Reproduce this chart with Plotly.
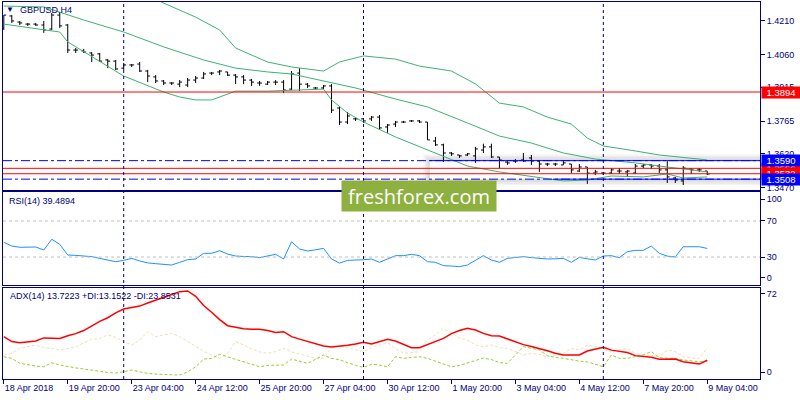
import plotly.graph_objects as go

# ---- data (H4 bars, index 0 = 18 Apr 12:00) ----
bars = list(range(89))

opens = [1.4178, 1.4231, 1.4204, 1.4195, 1.4195, 1.4191, 1.4173, 1.4235, 1.4191, 1.4080,
         1.4076, 1.4067, 1.4063, 1.4036, 1.4031, 1.4000, 1.4014, 1.4018, 1.3987, 1.3961,
         1.3943, 1.3934, 1.3929, 1.3925, 1.3947, 1.3956, 1.3978, 1.3983, 1.3983, 1.3969,
         1.3961, 1.3947, 1.3934, 1.3929, 1.3938, 1.3938, 1.3907, 1.3978, 1.3929, 1.3912,
         1.3912, 1.3921, 1.3823, 1.3761, 1.3775, 1.3775, 1.3775, 1.3783, 1.3739, 1.3752,
         1.3761, 1.3766, 1.3766, 1.3761, 1.3677, 1.3660, 1.3624, 1.3615, 1.3615, 1.3611,
         1.3637, 1.3651, 1.3606, 1.3584, 1.3588, 1.3593, 1.3602, 1.3588, 1.3575, 1.3575,
         1.3571, 1.3575, 1.3544, 1.3562, 1.3535, 1.3535, 1.3535, 1.3544, 1.3540, 1.3535,
         1.3566, 1.3571, 1.3566, 1.3549, 1.3513, 1.3500, 1.3553, 1.3549, 1.3544]
highs = [1.4235, 1.4235, 1.4209, 1.4200, 1.4200, 1.4209, 1.4244, 1.4244, 1.4195, 1.4089,
         1.4085, 1.4071, 1.4067, 1.4040, 1.4036, 1.4023, 1.4018, 1.4027, 1.3992, 1.3969,
         1.3947, 1.3938, 1.3947, 1.3956, 1.3965, 1.3983, 1.3983, 1.3992, 1.3983, 1.3974,
         1.3969, 1.3952, 1.3943, 1.3943, 1.3947, 1.3947, 1.3987, 1.4000, 1.3934, 1.3916,
         1.3925, 1.3929, 1.3832, 1.3805, 1.3779, 1.3779, 1.3788, 1.3792, 1.3752, 1.3766,
         1.3766, 1.3770, 1.3770, 1.3761, 1.3695, 1.3665, 1.3628, 1.3615, 1.3624, 1.3651,
         1.3665, 1.3665, 1.3606, 1.3588, 1.3597, 1.3624, 1.3615, 1.3593, 1.3580, 1.3580,
         1.3588, 1.3575, 1.3575, 1.3562, 1.3549, 1.3540, 1.3557, 1.3557, 1.3549, 1.3575,
         1.3575, 1.3575, 1.3575, 1.3588, 1.3518, 1.3566, 1.3557, 1.3557, 1.3544]
lows = [1.4169, 1.4200, 1.4191, 1.4187, 1.4187, 1.4156, 1.4169, 1.4178, 1.4067, 1.4067,
        1.4067, 1.4027, 1.4027, 1.4000, 1.3992, 1.3992, 1.4005, 1.3983, 1.3938, 1.3934,
        1.3925, 1.3925, 1.3916, 1.3916, 1.3934, 1.3952, 1.3969, 1.3969, 1.3965, 1.3929,
        1.3929, 1.3921, 1.3921, 1.3925, 1.3925, 1.3890, 1.3903, 1.3898, 1.3912, 1.3907,
        1.3907, 1.3801, 1.3748, 1.3752, 1.3766, 1.3757, 1.3766, 1.3726, 1.3713, 1.3739,
        1.3757, 1.3761, 1.3757, 1.3682, 1.3655, 1.3584, 1.3611, 1.3602, 1.3611, 1.3580,
        1.3624, 1.3602, 1.3557, 1.3571, 1.3580, 1.3584, 1.3571, 1.3540, 1.3566, 1.3566,
        1.3571, 1.3535, 1.3540, 1.3487, 1.3526, 1.3526, 1.3531, 1.3531, 1.3518, 1.3531,
        1.3557, 1.3553, 1.3535, 1.3491, 1.3491, 1.3482, 1.3531, 1.3540, 1.3526]
closes = [1.4235, 1.4209, 1.4200, 1.4195, 1.4191, 1.4169, 1.4235, 1.4187, 1.4080, 1.4080,
          1.4071, 1.4058, 1.4031, 1.4031, 1.3996, 1.4014, 1.4014, 1.3987, 1.3965, 1.3943,
          1.3934, 1.3934, 1.3938, 1.3947, 1.3956, 1.3974, 1.3978, 1.3987, 1.3969, 1.3961,
          1.3947, 1.3938, 1.3934, 1.3938, 1.3938, 1.3903, 1.3974, 1.3929, 1.3921, 1.3912,
          1.3921, 1.3814, 1.3761, 1.3788, 1.3775, 1.3766, 1.3783, 1.3735, 1.3748, 1.3761,
          1.3761, 1.3766, 1.3761, 1.3682, 1.3660, 1.3624, 1.3620, 1.3611, 1.3620, 1.3642,
          1.3651, 1.3606, 1.3593, 1.3580, 1.3588, 1.3588, 1.3588, 1.3575, 1.3575, 1.3575,
          1.3580, 1.3549, 1.3562, 1.3535, 1.3540, 1.3535, 1.3549, 1.3544, 1.3544, 1.3566,
          1.3571, 1.3566, 1.3549, 1.3518, 1.3504, 1.3557, 1.3549, 1.3549, 1.3531]

# Bollinger bands, sampled at bar positions
bb_up_x = [18, 20, 24, 27, 29, 33, 36, 39, 40, 42, 45, 49, 52, 56, 59, 62, 65, 68, 71, 73, 75, 79, 82, 87, 88]
bb_up = [1.4324, 1.4288, 1.4226, 1.4169, 1.4089, 1.4027, 1.4005, 1.3992, 1.3987, 1.4027, 1.4054, 1.4040,
         1.4009, 1.3987, 1.3930, 1.3845, 1.3828, 1.3783, 1.3752, 1.3690, 1.3655, 1.3633, 1.3615, 1.3597, 1.3593]
bb_mid_x = [0, 5, 10, 15, 20, 25, 29, 33, 36, 39, 41, 44, 49, 53, 58, 62, 66, 70, 74, 79, 83, 87, 88]
bb_mid = [1.4275, 1.4271, 1.4213, 1.4160, 1.4094, 1.4036, 1.4000, 1.3983, 1.3974, 1.3952, 1.3934, 1.3912,
          1.3863, 1.3828, 1.3757, 1.3699, 1.3668, 1.3624, 1.3597, 1.3580, 1.3562, 1.3544, 1.3540]
bb_low_x = [0, 7, 8, 15, 20, 22, 24, 26, 29, 33, 40, 41, 43, 45, 49, 53, 56, 58, 62, 67, 70, 73, 76, 80, 83, 85, 88]
bb_low = [1.4195, 1.4160, 1.4116, 1.3965, 1.3894, 1.3872, 1.3859, 1.3859, 1.3898, 1.3898, 1.3907, 1.3859,
          1.3801, 1.3761, 1.3695, 1.3637, 1.3593, 1.3566, 1.3540, 1.3513, 1.3500, 1.3504, 1.3522, 1.3518,
          1.3531, 1.3513, 1.3518]

rsi = [46.3, 42.2, 40.8, 41.0, 41.1, 37.8, 49.7, 44.1, 32.2, 31.8, 31.5, 30.4, 28.5, 26.5, 24.8,
       26.3, 28.5, 25.6, 23.5, 22.6, 21.5, 21.1, 24.1, 27.0, 27.8, 34.1, 34.1, 37.0, 33.3, 31.1,
       30.6, 30.4, 29.3, 31.1, 33.0, 27.8, 47.0, 38.9, 36.7, 38.0, 39.6, 27.8, 23.3, 26.3, 26.5,
       27.0, 27.8, 24.1, 27.8, 31.5, 31.5, 33.0, 31.5, 24.8, 24.1, 20.4, 20.0, 19.3, 21.1, 26.0,
       31.5, 26.7, 24.1, 28.5, 29.5, 30.4, 29.3, 28.5, 27.8, 28.0, 28.5, 24.1, 29.6, 28.0, 26.7,
       31.1, 31.5, 29.3, 35.9, 37.4, 37.4, 42.2, 34.1, 31.0, 30.0, 41.4, 41.4, 41.4, 39.49]

adx = [33.0, 29.0, 28.0, 28.6, 29.5, 32.0, 31.6, 31.6, 33.8, 35.5, 38.0, 42.0, 45.5, 48.5, 52.5,
       55.6, 56.7, 58.0, 60.5, 63.0, 65.0, 67.5, 69.8, 70.4, 66.0, 58.5, 53.0, 47.0, 42.0, 40.8,
       39.5, 39.0, 39.0, 38.0, 36.5, 37.1, 33.0, 31.0, 29.2, 27.5, 25.4, 24.5, 25.0, 26.0, 27.0,
       28.4, 27.0, 28.9, 30.8, 29.5, 26.5, 24.0, 24.0, 26.5, 29.0, 31.6, 35.5, 38.0, 39.8, 38.5,
       35.7, 33.8, 33.5, 31.0, 28.5, 26.5, 25.0, 23.5, 21.5, 19.5, 18.0, 18.0, 18.0, 21.3, 23.0,
       24.3, 22.0, 21.3, 20.0, 17.5, 16.6, 16.1, 14.5, 14.6, 14.7, 12.5, 11.5, 10.6, 13.72]
plus_di = [16.6, 15.3, 11.2, 9.8, 9.0, 8.4, 11.7, 9.8, 8.4, 7.5, 6.5, 5.5, 4.9, 3.8, 3.2,
           4.5, 5.7, 4.3, 3.0, 2.4, 2.0, 1.8, 1.6, 4.3, 8.4, 14.7, 15.3, 18.6, 16.6, 14.5,
           12.0, 10.5, 8.4, 9.5, 9.8, 9.8, 14.7, 12.8, 11.2, 14.5, 18.0, 15.3, 14.2, 11.8, 9.5,
           7.9, 10.4, 9.8, 8.4, 16.6, 15.3, 16.0, 16.6, 15.3, 13.0, 11.2, 8.4, 9.5, 11.5, 13.9,
           15.5, 14.3, 11.8, 11.2, 18.0, 24.8, 23.5, 22.1, 17.5, 16.0, 15.3, 13.9, 13.0, 12.4, 10.5,
           8.4, 18.0, 15.3, 15.3, 16.6, 18.0, 20.8, 16.0, 15.3, 15.3, 14.0, 13.2, 12.4, 13.15]
minus_di = [18.0, 19.4, 23.5, 24.8, 26.2, 24.0, 23.5, 22.1, 23.5, 24.5, 28.0, 30.8, 31.6, 34.4, 32.5,
            29.0, 26.2, 30.3, 37.1, 33.0, 34.5, 35.7, 33.0, 28.9, 25.0, 21.0, 18.0, 15.3, 19.4, 28.9,
            26.2, 23.0, 20.5, 19.4, 20.8, 23.5, 20.5, 18.5, 17.0, 15.3, 15.3, 24.0, 25.5, 24.0, 22.1,
            20.8, 24.0, 26.2, 28.0, 23.5, 19.4, 20.0, 20.8, 30.3, 34.5, 39.8, 35.7, 32.0, 30.3, 26.2,
            24.8, 26.2, 24.0, 23.5, 20.8, 18.0, 19.4, 18.5, 16.6, 18.0, 19.4, 23.5, 22.1, 26.2, 25.0,
            23.0, 20.8, 22.5, 23.5, 19.4, 18.0, 17.5, 16.6, 22.1, 20.8, 16.6, 15.5, 15.3, 23.85]

tick_pos = [0, 8, 16, 24, 32, 40, 48, 56, 64, 72, 80, 88]
tick_labels = ["18 Apr 2018", "19 Apr 20:00", "23 Apr 04:00", "24 Apr 12:00", "25 Apr 20:00",
               "27 Apr 04:00", "30 Apr 12:00", "1 May 20:00", "3 May 04:00", "4 May 12:00",
               "7 May 20:00", "9 May 04:00"]
price_ticks = [1.4210, 1.4060, 1.3915, 1.3765, 1.3620, 1.3470]
week_starts = [15, 45, 75]

red_levels = [1.3894, 1.3556, 1.3532]
blue_levels = [1.3590, 1.3508]
zone_start = 53.3

NAVY = "#000080"
FONT = "Liberation Sans"
XR = [-0.1, 94.6]

fig = go.Figure()

fig.add_trace(go.Ohlc(x=bars, open=opens, high=highs, low=lows, close=closes,
                      increasing_line_color="black", decreasing_line_color="black",
                      line_width=1, tickwidth=0.3, hoverinfo="skip",
                      xaxis="x", yaxis="y"))
for bx, by in [(bb_up_x, bb_up), (bb_mid_x, bb_mid), (bb_low_x, bb_low)]:
    fig.add_trace(go.Scatter(x=bx, y=by, mode="lines", line=dict(color="#3CB371", width=1),
                             hoverinfo="skip", xaxis="x", yaxis="y"))

fig.add_trace(go.Scatter(x=bars, y=rsi, mode="lines", line=dict(color="#1E90FF", width=1),
                         hoverinfo="skip", xaxis="x2", yaxis="y2"))

fig.add_trace(go.Scatter(x=bars, y=minus_di, mode="lines",
                         line=dict(color="#F5DEB3", width=1, dash="3px,2px"),
                         hoverinfo="skip", xaxis="x3", yaxis="y3"))
fig.add_trace(go.Scatter(x=bars, y=plus_di, mode="lines",
                         line=dict(color="#9ACD32", width=1, dash="3px,2px"),
                         hoverinfo="skip", xaxis="x3", yaxis="y3"))
fig.add_trace(go.Scatter(x=bars, y=adx, mode="lines", line=dict(color="#FF0000", width=1.5),
                         hoverinfo="skip", xaxis="x3", yaxis="y3"))

shapes = []
# soft shadow around the support zone
for k in range(4, 0, -1):
    shapes.append(dict(type="rect", xref="x", yref="y", layer="below",
                       x0=zone_start - 0.2 * k, x1=XR[1] + 1,
                       y0=blue_levels[1] - 0.0007 * k, y1=blue_levels[0] + 0.0007 * k,
                       fillcolor="rgba(120,120,120,0.07)", line_width=0))
shapes.append(dict(type="rect", xref="x", yref="y", layer="below",
                   x0=zone_start, x1=XR[1] + 1, y0=blue_levels[1], y1=blue_levels[0],
                   fillcolor="white", line_width=0))
for lv in red_levels:
    shapes.append(dict(type="line", xref="x domain", yref="y", x0=0, x1=1, y0=lv, y1=lv,
                       line=dict(color="#FF0000", width=1)))
for lv in blue_levels:
    shapes.append(dict(type="line", xref="x domain", yref="y", x0=0, x1=1, y0=lv, y1=lv,
                       line=dict(color="#0000FF", width=1, dash="dashdot")))
shapes.append(dict(type="line", xref="x", yref="y", x0=zone_start, x1=XR[1],
                   y0=blue_levels[0], y1=blue_levels[0], line=dict(color="#0000FF", width=1)))
shapes.append(dict(type="line", xref="x", yref="y", x0=68.7, x1=XR[1],
                   y0=blue_levels[1], y1=blue_levels[1], line=dict(color="#0000FF", width=1)))
for lv in [70, 30]:
    shapes.append(dict(type="line", xref="x2 domain", yref="y2", x0=0, x1=1, y0=lv, y1=lv,
                       line=dict(color="#C0C0C0", width=1, dash="3px,3px")))
for w in week_starts:
    shapes.append(dict(type="line", xref="x", yref="paper", x0=w, x1=w, y0=0, y1=1,
                       line=dict(color=NAVY, width=1, dash="3px,3px")))

ann = []
small = dict(family=FONT, size=9, color=NAVY)
ann.append(dict(text="▼", xref="paper", yref="paper", x=0.0086, y=0.981, showarrow=False,
                xanchor="center", yanchor="middle", font=dict(family=FONT, size=8, color=NAVY)))
ann.append(dict(text="GBPUSD,H4", xref="paper", yref="paper", x=0.0198, y=0.9788,
                showarrow=False, xanchor="left", yanchor="middle", font=small))
ann.append(dict(text="RSI(14) 39.4894", xref="paper", yref="paper", x=0.0053, y=0.4721,
                showarrow=False, xanchor="left", yanchor="middle", font=small))
ann.append(dict(text="ADX(14) 13.7223 +DI:13.1522 -DI:23.8531", xref="paper", yref="paper",
                x=0.0066, y=0.2202, showarrow=False, xanchor="left", yanchor="middle", font=small))

# price labels on the right scale (blue ones on top)
for lv, col in [(red_levels[1], "#FF0000"), (red_levels[2], "#FF0000"), (red_levels[0], "#FF0000"),
                (blue_levels[0], "#0000FF"), (blue_levels[1], "#0000FF")]:
    ann.append(dict(text="%.4f" % lv, xref="paper", yref="y", x=1, y=lv, xanchor="left",
                    yanchor="middle", xshift=1, showarrow=False, bgcolor=col,
                    width=38, height=11, borderpad=0,
                    font=dict(family=FONT, size=9.5, color="white")))

ann.append(dict(text="freshforex.com", xref="paper", yref="paper", x=0.5495, y=0.4854,
                showarrow=False, xanchor="center", yanchor="middle", bgcolor="#8DB03F",
                width=150, height=26, borderpad=2,
                font=dict(family="Open Sans", size=20, color="white")))

axis_common = dict(showgrid=False, zeroline=False, showline=True, mirror=True,
                   linecolor=NAVY, linewidth=1)
yaxis_common = dict(axis_common, side="right", ticks="outside", ticklen=4, tickcolor=NAVY,
                    tickfont=small)

fig.update_layout(
    width=800, height=400,
    margin=dict(l=3, r=40, t=2, b=21, autoexpand=False),
    paper_bgcolor="white", plot_bgcolor="white",
    showlegend=False,
    xaxis=dict(axis_common, domain=[0, 1], range=XR, anchor="y", showticklabels=False,
               rangeslider=dict(visible=False)),
    xaxis2=dict(axis_common, domain=[0, 1], range=XR, anchor="y2", matches="x",
                showticklabels=False),
    xaxis3=dict(axis_common, domain=[0, 1], range=XR, anchor="y3", matches="x",
                tickvals=tick_pos, ticktext=tick_labels, ticks="outside", ticklen=4,
                tickcolor=NAVY, ticklabelposition="outside right", tickfont=small),
    yaxis=dict(yaxis_common, domain=[0.5013, 1], range=[1.34599, 1.42929], anchor="x",
               tickvals=price_ticks, tickformat=".4f"),
    yaxis2=dict(yaxis_common, domain=[0.2493, 0.4960], range=[-1.1, 102.2], anchor="x2",
                tickvals=[94.4, 70, 30, 6.7], ticktext=["100", "70", "30", "0"]),
    yaxis3=dict(yaxis_common, domain=[0, 0.2414], range=[-1.6, 72.8], anchor="x3",
                tickvals=[67.9, 4.1], ticktext=["72", "0"]),
    shapes=shapes,
    annotations=ann,
)

# page margin off so the 800x400 figure sits flush in the window
fig.write_html("out.html", config={"displayModeBar": False},
               post_script="document.body.style.margin='0px';")
